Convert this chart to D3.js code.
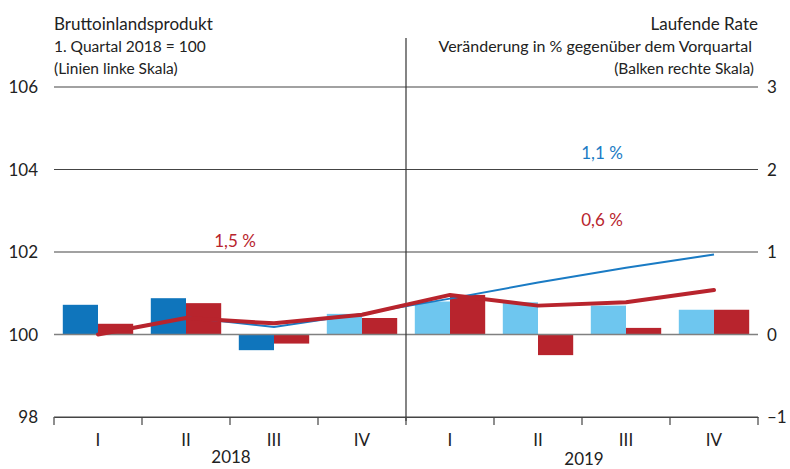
<!DOCTYPE html>
<html>
<head>
<meta charset="utf-8">
<script src="https://cdn.jsdelivr.net/npm/d3@7"></script>
<style>
  body { margin: 0; background: #fff; }
  svg text { font-family: "Source Sans Pro", Lato, "Open Sans", sans-serif; fill: #222; }
</style>
</head>
<body>
<div id="chart"></div>
<script>
// quarters and years on the x axis
var quarters = ["I", "II", "III", "IV", "I", "II", "III", "IV"];
var years = ["2018", "2019"];

// GDP index, 1st quarter 2018 = 100 (lines, left scale)
var bipBlue = [100, 100.42, 100.18, 100.5, 100.87, 101.26, 101.62, 101.94];
var bipRed = [100, 100.4, 100.27, 100.48, 100.96, 100.7, 100.78, 101.08];

// quarter on quarter rate in % (bars, right scale)
var rateBlue = [0.36, 0.44, -0.19, 0.25, 0.4, 0.39, 0.35, 0.3];
var rateRed = [0.13, 0.38, -0.11, 0.2, 0.48, -0.25, 0.08, 0.3];
var blueForecast = [false, false, false, true, true, true, true, true];

var leftTicks = [98, 100, 102, 104, 106];
var rightTicks = [-1, 0, 1, 2, 3];

// yearly annotations
var notes = [
  { text: "1,5 %", q: 2, y: 102.12, color: "#b8242d" },
  { text: "1,1 %", q: 6, y: 104.25, color: "#1a7bc4" },
  { text: "0,6 %", q: 6, y: 102.63, color: "#b8242d" }
];

var width = 790, height = 469;
var plotLeft = 54, plotRight = 758, plotTop = 87, plotBottom = 417;

var svg = d3.select("#chart").append("svg")
    .attr("width", width)
    .attr("height", height);

var x = d3.scaleBand()
    .domain(d3.range(quarters.length))
    .range([plotLeft, plotRight]);

var yL = d3.scaleLinear().domain([98, 106]).range([plotBottom, plotTop]);
var yR = d3.scaleLinear().domain([-1, 3]).range([plotBottom, plotTop]);

var barW = x.bandwidth() * 0.4;

// grid lines
svg.selectAll(".grid")
    .data(leftTicks.filter(function (d) { return d != 100; }))
    .enter().append("line")
    .attr("x1", plotLeft).attr("x2", plotRight)
    .attr("y1", function (d) { return yL(d); })
    .attr("y2", function (d) { return yL(d); })
    .style("stroke", "#444")
    .style("stroke-width", 1.2);

// left labels
svg.selectAll(".ltick")
    .data(leftTicks)
    .enter().append("text")
    .attr("x", 38)
    .attr("y", function (d) { return yL(d) + 6; })
    .attr("text-anchor", "end")
    .style("font-size", "17px")
    .text(function (d) { return d; });

// right labels
svg.selectAll(".rtick")
    .data(rightTicks)
    .enter().append("text")
    .attr("x", 767)
    .attr("y", function (d) { return yR(d) + 6; })
    .style("font-size", "17px")
    .text(function (d) { return d < 0 ? "\u2013" + Math.abs(d) : d; });

// bars
var bars = svg.append("g");
bars.selectAll(".bb")
    .data(rateBlue)
    .enter().append("rect")
    .attr("x", function (d, i) { return x(i) + x.bandwidth() / 2 - barW; })
    .attr("y", function (d) { return yR(Math.max(0, d)); })
    .attr("width", barW)
    .attr("height", function (d) { return Math.abs(yR(d) - yR(0)); })
    .style("fill", function (d, i) { return blueForecast[i] ? "#6ec6ef" : "#0f75bc"; });

bars.selectAll(".br")
    .data(rateRed)
    .enter().append("rect")
    .attr("x", function (d, i) { return x(i) + x.bandwidth() / 2; })
    .attr("y", function (d) { return yR(Math.max(0, d)); })
    .attr("width", barW)
    .attr("height", function (d) { return Math.abs(yR(d) - yR(0)); })
    .style("fill", "#b8242d");

// zero line
svg.append("line")
    .attr("x1", plotLeft).attr("x2", plotRight)
    .attr("y1", yL(100)).attr("y2", yL(100))
    .style("stroke", "#808080")
    .style("stroke-width", 1.5);

// year divider
svg.append("line")
    .attr("x1", x(4)).attr("x2", x(4))
    .attr("y1", 38).attr("y2", plotBottom + 4)
    .style("stroke", "#333")
    .style("stroke-width", 1.2);

// lines
var line = d3.line()
    .x(function (d, i) { return x(i) + x.bandwidth() / 2; })
    .y(function (d) { return yL(d); });

svg.append("path")
    .datum(bipBlue)
    .attr("d", line)
    .style("fill", "none")
    .style("stroke", "#1a7bc4")
    .style("stroke-width", 2);

svg.append("path")
    .datum(bipRed)
    .attr("d", line)
    .style("fill", "none")
    .style("stroke", "#b8242d")
    .style("stroke-width", 4)
    .style("stroke-linecap", "round")
    .style("stroke-linejoin", "round");

// x axis
var xAxis = d3.axisBottom(x)
    .tickValues([])
    .tickSizeOuter(0);
var ax = svg.append("g")
    .attr("transform", "translate(0," + plotBottom + ")")
    .call(xAxis);
ax.select(".domain").style("stroke", "#444").style("stroke-width", 1.2);

var tickPos = d3.range(quarters.length).map(function (i) { return x(i); }).concat([plotRight]);
svg.selectAll(".xtick")
    .data(tickPos)
    .enter().append("line")
    .attr("x1", function (d) { return d; })
    .attr("x2", function (d) { return d; })
    .attr("y1", plotBottom).attr("y2", plotBottom + 8)
    .style("stroke", "#444")
    .style("stroke-width", 1.2);

svg.selectAll(".qlab")
    .data(quarters)
    .enter().append("text")
    .attr("x", function (d, i) { return x(i) + x.bandwidth() / 2; })
    .attr("y", 446)
    .attr("text-anchor", "middle")
    .style("font-size", "17px")
    .text(function (d) { return d; });

svg.selectAll(".ylab")
    .data(years)
    .enter().append("text")
    .attr("x", function (d, i) { return i == 0 ? 231 : 584; })
    .attr("y", function (d, i) { return i == 0 ? 463 : 465; })
    .attr("text-anchor", "middle")
    .style("font-size", "17px")
    .text(function (d) { return d; });

// annotations
svg.selectAll(".note")
    .data(notes)
    .enter().append("text")
    .attr("x", function (d) { return d.q == 2 ? 235 : 602; })
    .attr("y", function (d) { return yL(d.y); })
    .attr("text-anchor", "middle")
    .style("font-size", "17px")
    .style("fill", function (d) { return d.color; })
    .text(function (d) { return d.text; });

// headers
svg.append("text").attr("x", 54).attr("y", 30)
    .style("font-size", "17px").text("Bruttoinlandsprodukt");
svg.append("text").attr("x", 54).attr("y", 52)
    .style("font-size", "15.5px").text("1. Quartal 2018 = 100");
svg.append("text").attr("x", 54).attr("y", 74)
    .style("font-size", "15.5px").text("(Linien linke Skala)");

svg.append("text").attr("x", 758).attr("y", 30).attr("text-anchor", "end")
    .style("font-size", "17px").text("Laufende Rate");
svg.append("text").attr("x", 752).attr("y", 52).attr("text-anchor", "end")
    .style("font-size", "16px").text("Veränderung in % gegenüber dem Vorquartal");
svg.append("text").attr("x", 754).attr("y", 74).attr("text-anchor", "end")
    .style("font-size", "15.5px").text("(Balken rechte Skala)");
</script>
</body>
</html>
